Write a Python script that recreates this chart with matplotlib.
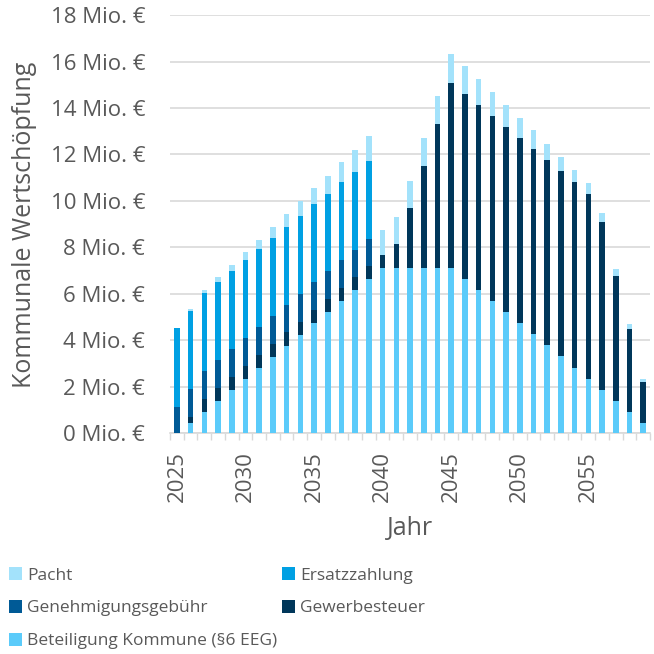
import matplotlib
matplotlib.use("Agg")
import matplotlib.pyplot as plt
import numpy as np

years = list(range(2025, 2060))
beteiligung = [0.0, 0.43, 0.92, 1.39, 1.86, 2.34, 2.81, 3.28, 3.77, 4.24, 4.73,
               5.20, 5.69, 6.16, 6.64, 7.12, 7.12, 7.12, 7.12, 7.12, 7.12,
               6.64, 6.16, 5.69, 5.22, 4.74, 4.26, 3.78, 3.31, 2.82, 2.35,
               1.86, 1.39, 0.92, 0.43]
gewerbesteuer = [0.0, 0.29, 0.57, 0.57, 0.57, 0.57, 0.57, 0.57, 0.57, 0.57, 0.57,
                 0.57, 0.55, 0.55, 0.54, 0.55, 1.02, 2.57, 4.39, 6.18, 7.96,
                 7.97, 7.96, 7.97, 7.97, 7.97, 7.97, 7.97, 7.97, 7.98, 7.97,
                 7.24, 5.38, 3.57, 1.79]
genehmigung = [1.15, 1.20, 1.20, 1.20, 1.20, 1.20, 1.20, 1.20, 1.20, 1.20, 1.20,
               1.20, 1.20, 1.20, 1.19, 0, 0, 0, 0, 0, 0,
               0, 0, 0, 0, 0, 0, 0, 0, 0, 0,
               0, 0, 0, 0]
ersatz = [3.38, 3.35, 3.34, 3.34, 3.34, 3.34, 3.35, 3.35, 3.35, 3.35, 3.35,
          3.35, 3.37, 3.35, 3.37, 0, 0, 0, 0, 0, 0,
          0, 0, 0, 0, 0, 0, 0, 0, 0, 0,
          0, 0, 0, 0]
pacht = [0.02, 0.08, 0.12, 0.21, 0.26, 0.35, 0.41, 0.49, 0.54, 0.62, 0.71,
         0.77, 0.85, 0.95, 1.05, 1.10, 1.15, 1.16, 1.19, 1.22, 1.25,
         1.19, 1.12, 1.03, 0.94, 0.88, 0.82, 0.72, 0.63, 0.55, 0.46,
         0.39, 0.30, 0.21, 0.10]

series = [
    ("Beteiligung Kommune (§6 EEG)", beteiligung, "#5BCBFA"),
    ("Gewerbesteuer", gewerbesteuer, "#00375A"),
    ("Genehmigungsgebühr", genehmigung, "#005A96"),
    ("Ersatzzahlung", ersatz, "#00A0E3"),
    ("Pacht", pacht, "#A3E2FB"),
]

plt.rcParams['font.family'] = ['Open Sans', 'DejaVu Sans']
txt = "#595959"

fig = plt.figure(figsize=(6.54, 6.54), dpi=100)
ax = fig.add_axes([0.26, 0.3374, 0.734, 0.6396])

x = np.arange(len(years))
bottom = np.zeros(len(years))
handles = {}
for name, vals, col in series:
    v = np.array(vals)
    h = ax.bar(x, v, width=0.4, bottom=bottom, color=col, edgecolor="none", zorder=3)
    handles[name] = h
    bottom += v

ax.set_ylim(0, 18)
ax.set_xlim(-0.5, len(years) - 0.5)
ax.set_yticks(np.arange(0, 19, 2))
ax.set_yticklabels([f"{v} Mio. €" for v in range(0, 19, 2)], fontsize=16, color=txt)
ax.tick_params(axis='y', length=0, pad=18)
ax.grid(axis='y', color="#D9D9D9", linewidth=1.2, zorder=0)

ax.set_xticks(np.arange(-0.5, len(years), 1), minor=False)
ax.set_xticklabels([])
ax.tick_params(axis='x', which='major', length=5, color="#D9D9D9", width=1)
lab_pos = [i for i, y in enumerate(years) if y % 5 == 0]
ax.set_xticks(lab_pos, minor=True)
ax.set_xticklabels([str(years[i]) for i in lab_pos], minor=True, rotation=90,
                   fontsize=16, color=txt)
ax.tick_params(axis='x', which='minor', length=0, pad=13)

for s in ["top", "right", "left"]:
    ax.spines[s].set_visible(False)
ax.spines["bottom"].set_color("#D9D9D9")
ax.spines["bottom"].set_linewidth(1.2)

ax.set_xlabel("Jahr", fontsize=18, color=txt, labelpad=10)
fig.text(0.038, 0.657, "Kommunale Wertschöpfung", rotation=90, fontsize=18,
         color=txt, ha="center", va="center")

order = ["Pacht", "Genehmigungsgebühr", "Beteiligung Kommune (§6 EEG)",
         "Ersatzzahlung", "Gewerbesteuer"]
leg = fig.legend([handles[n] for n in order], order, loc="upper left",
                 bbox_to_anchor=(-0.008, 0.154), ncol=2, frameon=False,
                 fontsize=12.5, handlelength=0.75, handleheight=0.75,
                 handletextpad=0.3, columnspacing=0.3, labelspacing=0.95,
                 labelcolor=txt, borderpad=0.3)

fig.savefig("out.png", dpi=100)
